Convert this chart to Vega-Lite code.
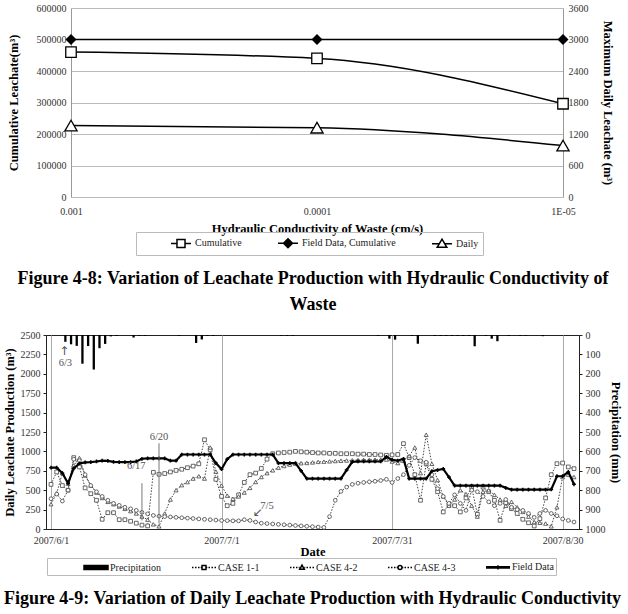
{
  "$schema": "https://vega.github.io/schema/vega-lite/v6.json",
  "background": "white",
  "padding": {"left": 2, "top": 3, "right": 2, "bottom": 0},
  "columns": 1,
  "spacing": 15,
  "resolve": {
    "scale": {"shape": "independent", "fill": "independent"},
    "legend": {"shape": "independent", "fill": "independent"}
  },
  "config": {
    "font": "Liberation Serif",
    "axis": {"labelFont": "Liberation Serif", "titleFont": "Liberation Serif", "labelFontSize": 10, "labelColor": "#333", "titleColor": "#000", "titleFontWeight": "bold", "titleFontSize": 12.5, "labelOverlap": false},
    "legend": {"labelFont": "Liberation Serif", "labelColor": "#222"},
    "title": {"font": "Liberation Serif"},
    "view": {"stroke": null}
  },
  "concat": [
    {
      "width": 534,
      "height": 189,
      "title": {"text": ["Figure 4-8: Variation of Leachate Production with Hydraulic Conductivity of", "Waste"], "orient": "bottom", "anchor": "middle", "frame": "group", "offset": 14, "fontSize": 18, "fontWeight": "bold", "color": "#000", "lineHeight": 26},
      "data": {"values": [
        {"k": "0.001", "cum": 460000, "field": 500000, "daily": 1360},
        {"k": "0.0001", "cum": 440000, "field": 500000, "daily": 1320},
        {"k": "1E-05", "cum": 296000, "field": 500000, "daily": 980}
      ]},
      "encoding": {
        "x": {"field": "k", "type": "ordinal", "sort": ["0.001", "0.0001", "1E-05"], "scale": {"type": "point", "padding": 0, "range": [25, 517]},
          "axis": {"title": "Hydraulic Conductivity of Waste (cm/s)", "labelAngle": 0, "ticks": false, "domain": false, "labelPadding": 9, "titlePadding": 6, "grid": false}}
      },
      "layer": [
        {
          "layer": [
            {"mark": {"type": "line", "interpolate": "monotone", "color": "#000", "strokeWidth": 1.5},
              "encoding": {"y": {"field": "cum", "type": "quantitative", "scale": {"domain": [0, 600000]},
                "axis": {"title": "Cumulative Leachate(m³)", "values": [0, 100000, 200000, 300000, 400000, 500000, 600000], "format": "d", "labelOverlap": false, "offset": -25, "grid": true, "gridColor": "#bbb", "domainColor": "#999", "ticks": false, "labelPadding": 5, "titlePadding": 16}}}},
            {"mark": {"type": "line", "color": "#000", "strokeWidth": 1.5},
              "encoding": {"y": {"field": "field", "type": "quantitative", "scale": {"domain": [0, 600000]},
                "axis": {"title": "Cumulative Leachate(m³)", "values": [0, 100000, 200000, 300000, 400000, 500000, 600000], "format": "d", "labelOverlap": false, "offset": -25, "grid": true, "gridColor": "#bbb", "domainColor": "#999", "ticks": false, "labelPadding": 5, "titlePadding": 16}}}},
            {"mark": {"type": "point", "shape": "square", "size": 110, "filled": true, "fill": "#fff", "stroke": "#000", "strokeWidth": 1.3, "opacity": 1},
              "encoding": {"y": {"field": "cum", "type": "quantitative", "scale": {"domain": [0, 600000]},
                "axis": {"title": "Cumulative Leachate(m³)", "values": [0, 100000, 200000, 300000, 400000, 500000, 600000], "format": "d", "labelOverlap": false, "offset": -25, "grid": true, "gridColor": "#bbb", "domainColor": "#999", "ticks": false, "labelPadding": 5, "titlePadding": 16}}}},
            {"mark": {"type": "point", "shape": "diamond", "size": 120, "filled": true, "fill": "#000", "opacity": 1},
              "encoding": {"y": {"field": "field", "type": "quantitative", "scale": {"domain": [0, 600000]},
                "axis": {"title": "Cumulative Leachate(m³)", "values": [0, 100000, 200000, 300000, 400000, 500000, 600000], "format": "d", "labelOverlap": false, "offset": -25, "grid": true, "gridColor": "#bbb", "domainColor": "#999", "ticks": false, "labelPadding": 5, "titlePadding": 16}}}},
            {"data": {"values": []},
              "mark": {"type": "point", "filled": true, "stroke": "#000", "opacity": 1},
              "encoding": {
                "shape": {"field": "s", "type": "nominal",
                  "scale": {"domain": ["Cumulative", "Field Data, Cumulative", "Daily"],
                    "range": ["M-1.67,0H-0.67M0.67,0H1.67M-0.67,-0.67H0.67V0.67H-0.67Z", "M-1.67,0H1.67M0,-0.75L0.75,0L0,0.75L-0.75,0Z", "M-1.67,0H-0.45M0.45,0H1.67M0,-0.75L0.8,0.6H-0.8Z"]},
                  "legend": {"title": " ", "titleOrient": "left", "titlePadding": 34, "orient": "none", "legendX": 90, "legendY": 224, "direction": "horizontal", "symbolSize": 144, "labelFontSize": 10, "labelOffset": 7, "columnPadding": 32, "strokeColor": "#bbb", "padding": 4,
                    "encode": {"symbols": {"update": {"stroke": {"value": "#000"}, "strokeWidth": {"value": 1}, "opacity": {"value": 1}}}}}},
                "fill": {"field": "s", "type": "nominal",
                  "scale": {"domain": ["Cumulative", "Field Data, Cumulative", "Daily"], "range": ["#fff", "#000", "#fff"]},
                  "legend": {"title": " ", "titleOrient": "left", "titlePadding": 34, "orient": "none", "legendX": 90, "legendY": 224, "direction": "horizontal", "symbolSize": 144, "labelFontSize": 10, "labelOffset": 7, "columnPadding": 32, "strokeColor": "#bbb", "padding": 4,
                    "encode": {"symbols": {"update": {"stroke": {"value": "#000"}, "strokeWidth": {"value": 1}, "opacity": {"value": 1}}}}}}
              }}
          ]
        },
        {
          "layer": [
            {"mark": {"type": "line", "interpolate": "monotone", "color": "#000", "strokeWidth": 1.5},
              "encoding": {"y": {"field": "daily", "type": "quantitative", "scale": {"domain": [0, 3600]},
                "axis": {"orient": "right", "title": "Maximum Daily Leachate (m³)", "values": [0, 600, 1200, 1800, 2400, 3000, 3600], "format": "d", "labelOverlap": false, "offset": -17, "grid": false, "domainColor": "#999", "ticks": false, "labelPadding": 5, "titlePadding": 12}}}},
            {"mark": {"type": "point", "shape": "triangle-up", "size": 150, "filled": true, "fill": "#fff", "stroke": "#000", "strokeWidth": 1.3, "opacity": 1},
              "encoding": {"y": {"field": "daily", "type": "quantitative", "scale": {"domain": [0, 3600]},
                "axis": {"orient": "right", "title": "Maximum Daily Leachate (m³)", "values": [0, 600, 1200, 1800, 2400, 3000, 3600], "format": "d", "labelOverlap": false, "offset": -17, "grid": false, "domainColor": "#999", "ticks": false, "labelPadding": 5, "titlePadding": 12}}}}
          ]
        }
      ],
      "resolve": {"scale": {"y": "independent"}}
    },
    {
      "width": 533,
      "height": 194,
      "view": {"stroke": "#222"},
      "title": {"text": "Figure 4-9: Variation of Daily Leachate Production with Hydraulic Conductivity", "orient": "bottom", "anchor": "middle", "frame": "group", "offset": 14, "fontSize": 18, "fontWeight": "bold", "color": "#000"},
      "encoding": {
        "x": {"field": "d", "type": "temporal",
          "scale": {"type": "utc", "domain": [{"year": 2007, "month": 6, "date": 1, "utc": true}, {"year": 2007, "month": 9, "date": 1, "utc": true}]},
          "axis": {"title": "Date", "values": [{"year": 2007, "month": 6, "date": 1, "utc": true}, {"year": 2007, "month": 7, "date": 1, "utc": true}, {"year": 2007, "month": 7, "date": 31, "utc": true}, {"year": 2007, "month": 8, "date": 30, "utc": true}],
            "format": "%Y/%-m/%-d", "labelOverlap": false, "grid": true, "gridColor": "#aaa", "ticks": false, "domainColor": "#222", "labelPadding": 6, "titlePadding": 0}}
      },
      "layer": [
        {
          "data": {"values": [
            {"d": "2007-06-01", "f": 790, "c11": 575, "c42": 320, "c43": 390},
            {"d": "2007-06-02", "f": 790, "c11": 735, "c42": 460, "c43": 450},
            {"d": "2007-06-03", "f": 720, "c11": 560, "c42": 720, "c43": 360},
            {"d": "2007-06-04", "f": 590, "c11": 500, "c42": 585, "c43": 500},
            {"d": "2007-06-05", "f": 780, "c11": 920, "c42": 820, "c43": 900},
            {"d": "2007-06-06", "f": 845, "c11": 800, "c42": 915, "c43": 880},
            {"d": "2007-06-07", "f": 858, "c11": 530, "c42": 690, "c43": 700},
            {"d": "2007-06-08", "f": 862, "c11": 455, "c42": 560, "c43": 560},
            {"d": "2007-06-09", "f": 870, "c11": 370, "c42": 470, "c43": 480},
            {"d": "2007-06-10", "f": 880, "c11": 125, "c42": 400, "c43": 420},
            {"d": "2007-06-11", "f": 878, "c11": 210, "c42": 350, "c43": 370},
            {"d": "2007-06-12", "f": 865, "c11": 210, "c42": 320, "c43": 330},
            {"d": "2007-06-13", "f": 862, "c11": 120, "c42": 290, "c43": 305},
            {"d": "2007-06-14", "f": 862, "c11": 120, "c42": 260, "c43": 280},
            {"d": "2007-06-15", "f": 862, "c11": 100, "c42": 230, "c43": 260},
            {"d": "2007-06-16", "f": 870, "c11": 75, "c42": 200, "c43": 240},
            {"d": "2007-06-17", "f": 905, "c11": 50, "c42": 160, "c43": 215},
            {"d": "2007-06-18", "f": 910, "c11": 40, "c42": 120, "c43": 195},
            {"d": "2007-06-19", "f": 910, "c11": 730, "c42": 60, "c43": 175},
            {"d": "2007-06-20", "f": 910, "c11": 705, "c42": 35, "c43": 165},
            {"d": "2007-06-21", "f": 910, "c11": 715, "c42": 200, "c43": 160},
            {"d": "2007-06-22", "f": 880, "c11": 735, "c42": 380, "c43": 155},
            {"d": "2007-06-23", "f": 880, "c11": 755, "c42": 500, "c43": 150},
            {"d": "2007-06-24", "f": 960, "c11": 770, "c42": 565, "c43": 145},
            {"d": "2007-06-25", "f": 960, "c11": 790, "c42": 605, "c43": 140},
            {"d": "2007-06-26", "f": 960, "c11": 810, "c42": 650, "c43": 135},
            {"d": "2007-06-27", "f": 960, "c11": 840, "c42": 680, "c43": 130},
            {"d": "2007-06-28", "f": 960, "c11": 1150, "c42": 650, "c43": 125},
            {"d": "2007-06-29", "f": 960, "c11": 1020, "c42": 1050, "c43": 120},
            {"d": "2007-06-30", "f": 850, "c11": 640, "c42": 740, "c43": 115},
            {"d": "2007-07-01", "f": 770, "c11": 420, "c42": 560, "c43": 110},
            {"d": "2007-07-02", "f": 900, "c11": 300, "c42": 430, "c43": 108},
            {"d": "2007-07-03", "f": 960, "c11": 330, "c42": 390, "c43": 105},
            {"d": "2007-07-04", "f": 960, "c11": 440, "c42": 420, "c43": 105},
            {"d": "2007-07-05", "f": 960, "c11": 600, "c42": 470, "c43": 120},
            {"d": "2007-07-06", "f": 960, "c11": 700, "c42": 530, "c43": 110},
            {"d": "2007-07-07", "f": 960, "c11": 720, "c42": 606, "c43": 90},
            {"d": "2007-07-08", "f": 960, "c11": 780, "c42": 670, "c43": 75},
            {"d": "2007-07-09", "f": 960, "c11": 900, "c42": 720, "c43": 70},
            {"d": "2007-07-10", "f": 960, "c11": 970, "c42": 756, "c43": 65},
            {"d": "2007-07-11", "f": 850, "c11": 980, "c42": 790, "c43": 60},
            {"d": "2007-07-12", "f": 850, "c11": 985, "c42": 812, "c43": 55},
            {"d": "2007-07-13", "f": 850, "c11": 990, "c42": 830, "c43": 50},
            {"d": "2007-07-14", "f": 850, "c11": 1000, "c42": 842, "c43": 45},
            {"d": "2007-07-15", "f": 750, "c11": 995, "c42": 848, "c43": 40},
            {"d": "2007-07-16", "f": 650, "c11": 990, "c42": 851, "c43": 35},
            {"d": "2007-07-17", "f": 650, "c11": 985, "c42": 858, "c43": 30},
            {"d": "2007-07-18", "f": 650, "c11": 980, "c42": 865, "c43": 25},
            {"d": "2007-07-19", "f": 650, "c11": 980, "c42": 868, "c43": 20},
            {"d": "2007-07-20", "f": 650, "c11": 975, "c42": 872, "c43": 160},
            {"d": "2007-07-21", "f": 650, "c11": 975, "c42": 876, "c43": 370},
            {"d": "2007-07-22", "f": 650, "c11": 970, "c42": 880, "c43": 485},
            {"d": "2007-07-23", "f": 760, "c11": 970, "c42": 883, "c43": 540},
            {"d": "2007-07-24", "f": 865, "c11": 970, "c42": 886, "c43": 575},
            {"d": "2007-07-25", "f": 870, "c11": 965, "c42": 888, "c43": 590},
            {"d": "2007-07-26", "f": 870, "c11": 965, "c42": 890, "c43": 600},
            {"d": "2007-07-27", "f": 870, "c11": 960, "c42": 892, "c43": 608},
            {"d": "2007-07-28", "f": 870, "c11": 960, "c42": 893, "c43": 615},
            {"d": "2007-07-29", "f": 870, "c11": 955, "c42": 894, "c43": 625},
            {"d": "2007-07-30", "f": 930, "c11": 950, "c42": 895, "c43": 640},
            {"d": "2007-07-31", "f": 890, "c11": 955, "c42": 870, "c43": 600},
            {"d": "2007-08-01", "f": 880, "c11": 960, "c42": 850, "c43": 650},
            {"d": "2007-08-02", "f": 905, "c11": 1100, "c42": 880, "c43": 700},
            {"d": "2007-08-03", "f": 650, "c11": 920, "c42": 940, "c43": 820},
            {"d": "2007-08-04", "f": 650, "c11": 700, "c42": 1050, "c43": 920},
            {"d": "2007-08-05", "f": 650, "c11": 370, "c42": 720, "c43": 880},
            {"d": "2007-08-06", "f": 650, "c11": 840, "c42": 1215, "c43": 860},
            {"d": "2007-08-07", "f": 745, "c11": 640, "c42": 840, "c43": 700},
            {"d": "2007-08-08", "f": 760, "c11": 480, "c42": 630, "c43": 520},
            {"d": "2007-08-09", "f": 775, "c11": 220, "c42": 420, "c43": 420},
            {"d": "2007-08-10", "f": 670, "c11": 310, "c42": 300, "c43": 330},
            {"d": "2007-08-11", "f": 560, "c11": 300, "c42": 380, "c43": 440},
            {"d": "2007-08-12", "f": 560, "c11": 220, "c42": 500, "c43": 330},
            {"d": "2007-08-13", "f": 560, "c11": 400, "c42": 450, "c43": 240},
            {"d": "2007-08-14", "f": 560, "c11": 540, "c42": 300, "c43": 500},
            {"d": "2007-08-15", "f": 560, "c11": 190, "c42": 160, "c43": 480},
            {"d": "2007-08-16", "f": 560, "c11": 540, "c42": 480, "c43": 420},
            {"d": "2007-08-17", "f": 560, "c11": 480, "c42": 500, "c43": 350},
            {"d": "2007-08-18", "f": 560, "c11": 370, "c42": 440, "c43": 300},
            {"d": "2007-08-19", "f": 560, "c11": 112, "c42": 380, "c43": 330},
            {"d": "2007-08-20", "f": 530, "c11": 335, "c42": 300, "c43": 380},
            {"d": "2007-08-21", "f": 508, "c11": 262, "c42": 350, "c43": 280},
            {"d": "2007-08-22", "f": 508, "c11": 200, "c42": 280, "c43": 250},
            {"d": "2007-08-23", "f": 508, "c11": 125, "c42": 220, "c43": 240},
            {"d": "2007-08-24", "f": 508, "c11": 80, "c42": 160, "c43": 200},
            {"d": "2007-08-25", "f": 508, "c11": 39, "c42": 90, "c43": 150},
            {"d": "2007-08-26", "f": 508, "c11": 133, "c42": 80, "c43": 200},
            {"d": "2007-08-27", "f": 508, "c11": 400, "c42": 70, "c43": 240},
            {"d": "2007-08-28", "f": 510, "c11": 700, "c42": 35, "c43": 200},
            {"d": "2007-08-29", "f": 680, "c11": 842, "c42": 280, "c43": 170},
            {"d": "2007-08-30", "f": 680, "c11": 850, "c42": 670, "c43": 130},
            {"d": "2007-08-31", "f": 735, "c11": 800, "c42": 700, "c43": 110},
            {"d": "2007-09-01", "f": 576, "c11": 778, "c42": 670, "c43": 90}
          ]},
          "layer": [
            {"mark": {"type": "line", "strokeDash": [1.5, 1.5], "strokeWidth": 1, "color": "#444"},
              "encoding": {"y": {"field": "c11", "type": "quantitative", "scale": {"domain": [0, 2500]},
                "axis": {"title": "Daily Leachate Production (m³)", "values": [0, 250, 500, 750, 1000, 1250, 1500, 1750, 2000, 2250, 2500], "format": "d", "labelOverlap": false, "grid": false, "domainColor": "#222", "tickColor": "#222", "tickSize": 3, "labelPadding": 3, "titlePadding": 4}}}},
            {"mark": {"type": "line", "strokeDash": [1.5, 1.5], "strokeWidth": 1, "color": "#444"},
              "encoding": {"y": {"field": "c42", "type": "quantitative", "scale": {"domain": [0, 2500]},
                "axis": {"title": "Daily Leachate Production (m³)", "values": [0, 250, 500, 750, 1000, 1250, 1500, 1750, 2000, 2250, 2500], "format": "d", "labelOverlap": false, "grid": false, "domainColor": "#222", "tickColor": "#222", "tickSize": 3, "labelPadding": 3, "titlePadding": 4}}}},
            {"mark": {"type": "line", "strokeDash": [1.5, 1.5], "strokeWidth": 1, "color": "#444"},
              "encoding": {"y": {"field": "c43", "type": "quantitative", "scale": {"domain": [0, 2500]},
                "axis": {"title": "Daily Leachate Production (m³)", "values": [0, 250, 500, 750, 1000, 1250, 1500, 1750, 2000, 2250, 2500], "format": "d", "labelOverlap": false, "grid": false, "domainColor": "#222", "tickColor": "#222", "tickSize": 3, "labelPadding": 3, "titlePadding": 4}}}},
            {"mark": {"type": "point", "shape": "square", "size": 14, "filled": true, "fill": "#fff", "stroke": "#444", "strokeWidth": 0.8, "opacity": 1},
              "encoding": {"y": {"field": "c11", "type": "quantitative", "scale": {"domain": [0, 2500]},
                "axis": {"title": "Daily Leachate Production (m³)", "values": [0, 250, 500, 750, 1000, 1250, 1500, 1750, 2000, 2250, 2500], "format": "d", "labelOverlap": false, "grid": false, "domainColor": "#222", "tickColor": "#222", "tickSize": 3, "labelPadding": 3, "titlePadding": 4}}}},
            {"mark": {"type": "point", "shape": "triangle-up", "size": 16, "filled": true, "fill": "#fff", "stroke": "#444", "strokeWidth": 0.8, "opacity": 1},
              "encoding": {"y": {"field": "c42", "type": "quantitative", "scale": {"domain": [0, 2500]},
                "axis": {"title": "Daily Leachate Production (m³)", "values": [0, 250, 500, 750, 1000, 1250, 1500, 1750, 2000, 2250, 2500], "format": "d", "labelOverlap": false, "grid": false, "domainColor": "#222", "tickColor": "#222", "tickSize": 3, "labelPadding": 3, "titlePadding": 4}}}},
            {"mark": {"type": "point", "shape": "circle", "size": 14, "filled": true, "fill": "#fff", "stroke": "#444", "strokeWidth": 0.8, "opacity": 1},
              "encoding": {"y": {"field": "c43", "type": "quantitative", "scale": {"domain": [0, 2500]},
                "axis": {"title": "Daily Leachate Production (m³)", "values": [0, 250, 500, 750, 1000, 1250, 1500, 1750, 2000, 2250, 2500], "format": "d", "labelOverlap": false, "grid": false, "domainColor": "#222", "tickColor": "#222", "tickSize": 3, "labelPadding": 3, "titlePadding": 4}}}},
            {"mark": {"type": "line", "strokeWidth": 2.2, "color": "#000"},
              "encoding": {"y": {"field": "f", "type": "quantitative", "scale": {"domain": [0, 2500]},
                "axis": {"title": "Daily Leachate Production (m³)", "values": [0, 250, 500, 750, 1000, 1250, 1500, 1750, 2000, 2250, 2500], "format": "d", "labelOverlap": false, "grid": false, "domainColor": "#222", "tickColor": "#222", "tickSize": 3, "labelPadding": 3, "titlePadding": 4}}}},
            {"mark": {"type": "point", "shape": "cross", "size": 14, "filled": true, "color": "#000", "opacity": 1},
              "encoding": {"y": {"field": "f", "type": "quantitative", "scale": {"domain": [0, 2500]},
                "axis": {"title": "Daily Leachate Production (m³)", "values": [0, 250, 500, 750, 1000, 1250, 1500, 1750, 2000, 2250, 2500], "format": "d", "labelOverlap": false, "grid": false, "domainColor": "#222", "tickColor": "#222", "tickSize": 3, "labelPadding": 3, "titlePadding": 4}}}},
            {"data": {"values": [
                {"d": "2007-06-17", "v": 590, "v2": 110},
                {"d": "2007-06-20", "v": 1105, "v2": 70}
              ]},
              "mark": {"type": "rule", "color": "#777", "strokeWidth": 1},
              "encoding": {"y": {"field": "v", "type": "quantitative", "scale": {"domain": [0, 2500]},
                "axis": {"title": "Daily Leachate Production (m³)", "values": [0, 250, 500, 750, 1000, 1250, 1500, 1750, 2000, 2250, 2500], "format": "d", "labelOverlap": false, "grid": false, "domainColor": "#222", "tickColor": "#222", "tickSize": 3, "labelPadding": 3, "titlePadding": 4}}, "y2": {"field": "v2"}}},
            {"data": {"values": [
                {"d": "2007-06-16", "v": 810, "t": "6/17"},
                {"d": "2007-06-20", "v": 1185, "t": "6/20"},
                {"d": "2007-07-09", "v": 300, "t": "7/5"}
              ]},
              "mark": {"type": "text", "fontSize": 10.5, "color": "#555", "font": "Liberation Serif"},
              "encoding": {"y": {"field": "v", "type": "quantitative", "scale": {"domain": [0, 2500]},
                "axis": {"title": "Daily Leachate Production (m³)", "values": [0, 250, 500, 750, 1000, 1250, 1500, 1750, 2000, 2250, 2500], "format": "d", "labelOverlap": false, "grid": false, "domainColor": "#222", "tickColor": "#222", "tickSize": 3, "labelPadding": 3, "titlePadding": 4}}, "text": {"field": "t"}}},
            {"data": {"values": [
                {"d": "2007-06-03", "v": 2135, "t": "6/3"}
              ]},
              "mark": {"type": "text", "fontSize": 10.5, "color": "#555", "font": "Liberation Serif", "dx": 3},
              "encoding": {"y": {"field": "v", "type": "quantitative", "scale": {"domain": [0, 2500]},
                "axis": {"title": "Daily Leachate Production (m³)", "values": [0, 250, 500, 750, 1000, 1250, 1500, 1750, 2000, 2250, 2500], "format": "d", "labelOverlap": false, "grid": false, "domainColor": "#222", "tickColor": "#222", "tickSize": 3, "labelPadding": 3, "titlePadding": 4}}, "text": {"field": "t"}}},
            {"data": {"values": [
                {"d": "2007-06-03", "v": 2300, "t": "↑"},
                {"d": "2007-07-07", "v": 215, "t": "↙"}
              ]},
              "mark": {"type": "text", "fontSize": 12, "color": "#555", "font": "DejaVu Sans", "dx": 2},
              "encoding": {"y": {"field": "v", "type": "quantitative", "scale": {"domain": [0, 2500]},
                "axis": {"title": "Daily Leachate Production (m³)", "values": [0, 250, 500, 750, 1000, 1250, 1500, 1750, 2000, 2250, 2500], "format": "d", "labelOverlap": false, "grid": false, "domainColor": "#222", "tickColor": "#222", "tickSize": 3, "labelPadding": 3, "titlePadding": 4}}, "text": {"field": "t"}}},
            {"data": {"values": []},
              "mark": {"type": "point", "filled": true, "stroke": "#000", "opacity": 1},
              "encoding": {
                "shape": {"field": "s", "type": "nominal",
                  "scale": {"domain": ["Precipitation", "CASE 1-1", "CASE 4-2", "CASE 4-3", "Field Data"],
                    "range": [
                      "M-2,-0.33H2V0.33H-2Z",
                      "M-2,0H-1.75M-1.5,0H-1.25M-1,0H-0.75M-0.55,0H-0.4M0.4,0H0.55M0.75,0H1M1.25,0H1.5M1.75,0H2M-0.33,-0.33H0.33V0.33H-0.33Z",
                      "M-2,0H-1.75M-1.5,0H-1.25M-1,0H-0.75M-0.55,0H-0.4M0.4,0H0.55M0.75,0H1M1.25,0H1.5M1.75,0H2M0,-0.4L0.38,0.3H-0.38Z",
                      "M-2,0H-1.75M-1.5,0H-1.25M-1,0H-0.75M-0.55,0H-0.4M0.4,0H0.55M0.75,0H1M1.25,0H1.5M1.75,0H2M-0.33,0A0.33,0.33,0,1,0,0.33,0A0.33,0.33,0,1,0,-0.33,0Z",
                      "M-2,-0.1H2M-2,0H2M-2,0.1H2M0,-0.35V0.35M-0.35,0H0.35"
                    ]},
                  "legend": {"title": " ", "titleOrient": "left", "titlePadding": 40, "orient": "none", "legendX": 1, "legendY": 223, "direction": "horizontal", "symbolSize": 144, "labelFontSize": 10, "labelOffset": 7, "columnPadding": 27, "strokeColor": "#bbb", "padding": 2,
                    "encode": {"symbols": {"update": {"stroke": {"value": "#000"}, "strokeWidth": {"value": 1}, "opacity": {"value": 1}}}}}},
                "fill": {"field": "s", "type": "nominal",
                  "scale": {"domain": ["Precipitation", "CASE 1-1", "CASE 4-2", "CASE 4-3", "Field Data"], "range": ["#000", "#fff", "#fff", "#fff", "#000"]},
                  "legend": {"title": " ", "titleOrient": "left", "titlePadding": 40, "orient": "none", "legendX": 1, "legendY": 223, "direction": "horizontal", "symbolSize": 144, "labelFontSize": 10, "labelOffset": 7, "columnPadding": 27, "strokeColor": "#bbb", "padding": 2,
                    "encode": {"symbols": {"update": {"stroke": {"value": "#000"}, "strokeWidth": {"value": 1}, "opacity": {"value": 1}}}}}}
              }}
          ]
        },
        {
          "data": {"values": [
            {"d": "2007-06-03", "mm": 35}, {"d": "2007-06-04", "mm": 48}, {"d": "2007-06-05", "mm": 56},
            {"d": "2007-06-06", "mm": 148}, {"d": "2007-06-07", "mm": 57}, {"d": "2007-06-08", "mm": 178},
            {"d": "2007-06-09", "mm": 68}, {"d": "2007-06-10", "mm": 46}, {"d": "2007-06-11", "mm": 7},
            {"d": "2007-06-12", "mm": 5}, {"d": "2007-06-15", "mm": 13}, {"d": "2007-06-16", "mm": 4},
            {"d": "2007-06-17", "mm": 4}, {"d": "2007-06-23", "mm": 4}, {"d": "2007-06-26", "mm": 41},
            {"d": "2007-06-27", "mm": 23}, {"d": "2007-06-28", "mm": 5}, {"d": "2007-06-29", "mm": 5},
            {"d": "2007-07-11", "mm": 4}, {"d": "2007-07-12", "mm": 4}, {"d": "2007-07-13", "mm": 4},
            {"d": "2007-07-28", "mm": 4}, {"d": "2007-07-30", "mm": 19}, {"d": "2007-07-31", "mm": 24},
            {"d": "2007-08-03", "mm": 4}, {"d": "2007-08-04", "mm": 45}, {"d": "2007-08-07", "mm": 5},
            {"d": "2007-08-08", "mm": 5}, {"d": "2007-08-09", "mm": 5}, {"d": "2007-08-10", "mm": 5},
            {"d": "2007-08-11", "mm": 5}, {"d": "2007-08-12", "mm": 5}, {"d": "2007-08-13", "mm": 5},
            {"d": "2007-08-14", "mm": 58}, {"d": "2007-08-16", "mm": 4}, {"d": "2007-08-17", "mm": 19},
            {"d": "2007-08-18", "mm": 32}, {"d": "2007-08-20", "mm": 5}, {"d": "2007-08-22", "mm": 4},
            {"d": "2007-08-23", "mm": 4}, {"d": "2007-08-26", "mm": 6}
          ]},
          "mark": {"type": "bar", "color": "#000", "size": 2.3, "xOffset": 3},
          "encoding": {"y": {"field": "mm", "type": "quantitative", "scale": {"domain": [0, 1000], "reverse": true},
            "axis": {"orient": "right", "title": "Precipitation (mm)", "values": [0, 100, 200, 300, 400, 500, 600, 700, 800, 900, 1000], "format": "d", "labelOverlap": false, "grid": false, "domainColor": "#222", "tickColor": "#222", "tickSize": 3, "labelPadding": 3, "titlePadding": 3}}}
        }
      ],
      "resolve": {"scale": {"y": "independent"}}
    }
  ]
}
